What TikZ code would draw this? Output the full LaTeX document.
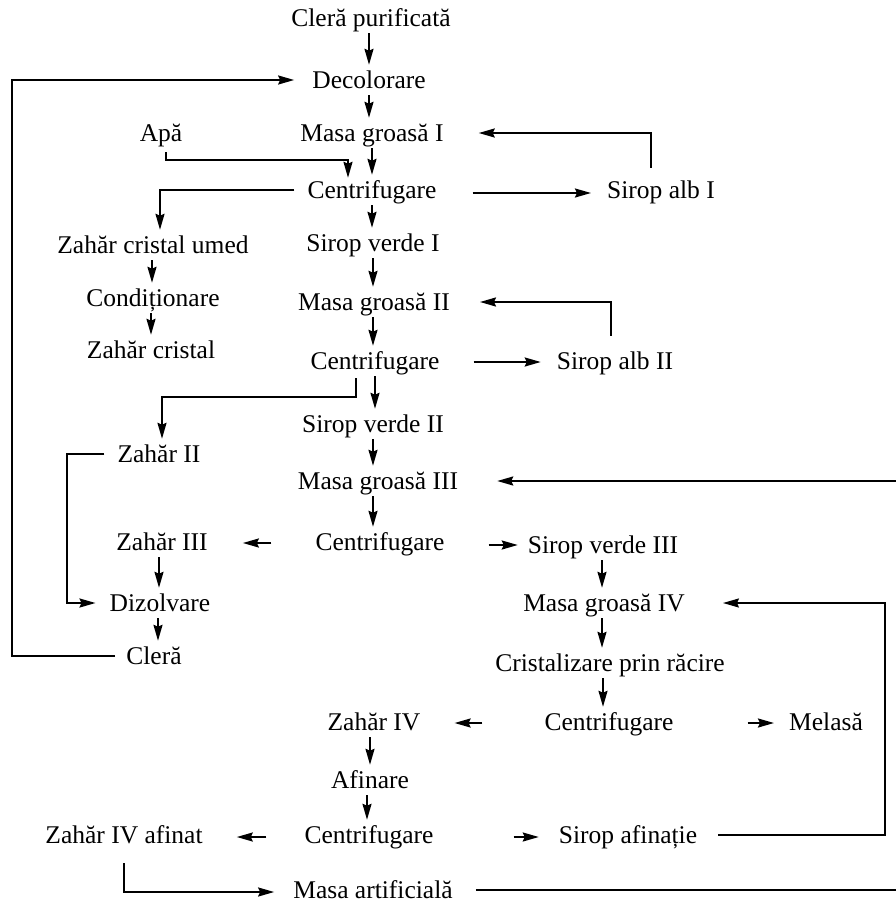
\documentclass[tikz,border=0pt]{standalone}
\usepackage{fontspec}
\setmainfont{Liberation Serif}
\usetikzlibrary{arrows.meta}
\begin{document}
\begin{tikzpicture}[x=1pt,y=-1pt,
  lbl/.style={inner sep=0pt, minimum height=30pt, text height=20pt, text depth=4pt,
              font=\fontsize{25.5pt}{30pt}\selectfont},
  arr/.style={-{Stealth[length=16pt,width=9pt,inset=2pt]}, line width=2pt},
  ln/.style={line width=2pt}]
\useasboundingbox (0,0) rectangle (896,905);

% main refining line
\node[lbl] (cp)   at (371,18)  {Cleră purificată};
\node[lbl] (dec)  at (369,80)  {Decolorare};
\node[lbl] (mg1)  at (372,133) {Masa groasă I};
\node[lbl] (apa)  at (161,133) {Apă};
\node[lbl] (cf1)  at (372,190) {Centrifugare};
\node[lbl] (sa1)  at (661,190) {Sirop alb I};
\node[lbl] (zcu)  at (153,245) {Zahăr cristal umed};
\node[lbl] (sv1)  at (373,243) {Sirop verde I};
\node[lbl] (cond) at (153,298) {Condiționare};
\node[lbl] (mg2)  at (374,302) {Masa groasă II};
\node[lbl] (zc)   at (151,350) {Zahăr cristal};
\node[lbl] (cf2)  at (375,361) {Centrifugare};
\node[lbl] (sa2)  at (615,361) {Sirop alb II};
\node[lbl] (sv2)  at (373,424) {Sirop verde II};
\node[lbl] (z2)   at (159,454) {Zahăr II};
\node[lbl] (mg3)  at (378,481) {Masa groasă III};
\node[lbl] (z3)   at (162,542) {Zahăr III};
\node[lbl] (cf3)  at (380,542) {Centrifugare};
\node[lbl] (sv3)  at (603,545) {Sirop verde III};
\node[lbl] (diz)  at (160,603) {Dizolvare};
\node[lbl] (mg4)  at (604,603) {Masa groasă IV};
\node[lbl] (clera) at (154,656) {Cleră};
\node[lbl] (cr)   at (610,663) {Cristalizare prin răcire};
\node[lbl] (z4)   at (374,722) {Zahăr IV};
\node[lbl] (cf4)  at (609,722) {Centrifugare};
\node[lbl] (mel)  at (826,722) {Melasă};
\node[lbl] (af)   at (370,780) {Afinare};
\node[lbl] (z4a)  at (124,835) {Zahăr IV afinat};
\node[lbl] (cf5)  at (369,835) {Centrifugare};
\node[lbl] (safi) at (628,835) {Sirop afinație};
\node[lbl] (ma)   at (373,890) {Masa artificială};

\coordinate (e3) at (896,481);
\coordinate (e4) at (896,890);

% vertical flow arrows
\draw[arr] ([xshift=-2pt]cp.south) -- ([xshift=-2pt]cp.south |- dec.north);
\draw[arr] (dec.south) -- (dec.south |- mg1.north);
\draw[arr] (mg1.south) -- (mg1.south |- cf1.north);
\draw[arr] (cf1.south) -- (cf1.south |- sv1.north);
\draw[arr] ([xshift=-1pt]zcu.south) -- ([xshift=-1pt]zcu.south |- cond.north);
\draw[arr] ([xshift=-2pt]cond.south) -- ([xshift=-2pt]cond.south |- zc.north);
\draw[arr] (sv1.south) -- (sv1.south |- mg2.north);
\draw[arr] ([xshift=-1pt]mg2.south) -- ([xshift=-1pt]mg2.south |- cf2.north);
\draw[arr] (cf2.south) -- (cf2.south |- sv2.north);
\draw[arr] (sv2.south) -- (sv2.south |- mg3.north);
\draw[arr] ([xshift=-5pt]mg3.south) -- ([xshift=-5pt]mg3.south |- cf3.north);
\draw[arr] ([xshift=-3pt]z3.south) -- ([xshift=-3pt]z3.south |- diz.north);
\draw[arr] ([xshift=-2pt]diz.south) -- ([xshift=-2pt]diz.south |- clera.north);
\draw[arr] ([xshift=-1pt]sv3.south) -- ([xshift=-1pt]sv3.south |- mg4.north);
\draw[arr] ([xshift=-2pt]mg4.south) -- ([xshift=-2pt]mg4.south |- cr.north);
\draw[arr] ([xshift=-7pt]cr.south) -- ([xshift=-7pt]cr.south |- cf4.north);
\draw[arr] ([xshift=-4pt]z4.south) -- ([xshift=-4pt]z4.south |- af.north);
\draw[arr] ([xshift=-3pt]af.south) -- ([xshift=-3pt]af.south |- cf5.north);

% side outputs of the centrifuges
\draw[arr, shorten <=36pt, shorten >=16pt] ([yshift=-3pt]cf1.east) -- ([yshift=-3pt]cf1.east -| sa1.west);
\draw[arr, shorten <=34pt, shorten >=16pt] ([yshift=-1pt]cf2.east) -- ([yshift=-1pt]cf2.east -| sa2.west);
\draw[arr, shorten <=44pt, shorten >=35pt] ([yshift=-1pt]cf3.west) -- ([yshift=-1pt]cf3.west -| z3.east);
\draw[arr, shorten <=44pt, shorten >=10pt] ([yshift=-3pt]cf3.east) -- ([yshift=-3pt]cf3.east -| sv3.west);
\draw[arr, shorten <=62pt, shorten >=34pt] ([yshift=-1pt]cf4.west) -- ([yshift=-1pt]cf4.west -| z4.east);
\draw[arr, shorten <=74pt, shorten >=15pt] ([yshift=-1pt]cf4.east) -- ([yshift=-1pt]cf4.east -| mel.west);
\draw[arr, shorten <=38pt, shorten >=34pt] ([yshift=-2pt]cf5.west) -- ([yshift=-2pt]cf5.west -| z4a.east);
\draw[arr, shorten <=80pt, shorten >=20pt] ([yshift=-2pt]cf5.east) -- ([yshift=-2pt]cf5.east -| safi.west);

% recycle loops
\draw[arr] ([xshift=-10pt,yshift=7pt]sa1.north) |- ([xshift=35pt]mg1.east);
\draw[arr] ([xshift=-4pt,yshift=10pt]sa2.north) |- ([xshift=30pt]mg2.east);
\draw[arr] ([xshift=5pt,yshift=-4pt]apa.south) -- ++(0,8) -| ([xshift=-24pt,yshift=-3pt]cf1.north);
\draw[arr] ([xshift=-13pt]cf1.west) -| ([xshift=7pt]zcu.north);
\draw[arr] ([xshift=-19pt,yshift=-2pt]cf2.south) -- ++(0,19) -| ([xshift=3pt]z2.north);
\draw[arr] ([xshift=-13pt]z2.west) -- ++(-37,0) |- ([xshift=-14pt]diz.west);
\draw[arr] ([xshift=-11pt]clera.west) -- ++(-103,0) |- ([xshift=-18pt]dec.west);
\draw[arr] ([xshift=21pt]safi.east) -- ++(167,0) |- ([xshift=38pt]mg4.east);
\draw[arr] (e3) -- ([xshift=39pt]mg3.east);
\draw[arr] ([yshift=-13pt]z4a.south) |- ([xshift=-19pt,yshift=-2pt]ma.west);
\draw[ln] ([xshift=23pt]ma.east) -- (e4);
\end{tikzpicture}
\end{document}
